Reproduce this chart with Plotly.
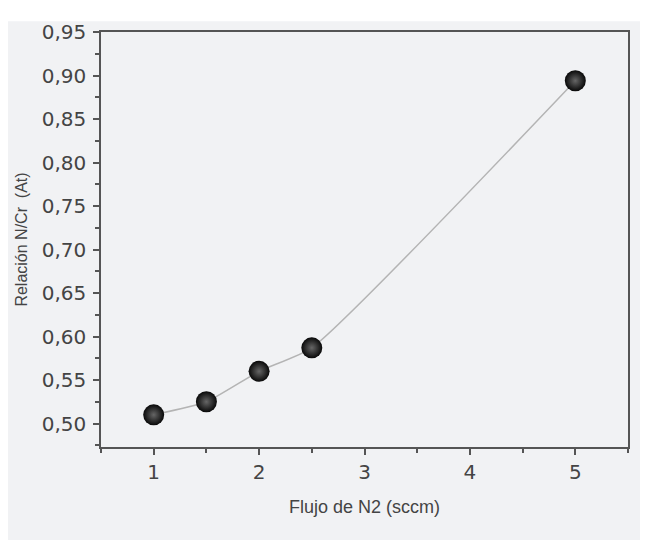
import plotly.graph_objects as go

flujo = [1.0, 1.5, 2.0, 2.5, 5.0]
relacion = [0.510, 0.525, 0.560, 0.587, 0.894]

x_title = "Flujo de N2 (sccm)"
y_title = "Relación N/Cr  (At)"

BG = "#f1f2f4"
AX = "#555555"
TXT = "#444444"
FONT = "Liberation Sans, Arial"
TICKFONT = "DejaVu Sans, Arial"

fig = go.Figure()
fig.add_trace(go.Scatter(
    x=flujo, y=relacion, mode="lines",
    line=dict(shape="spline", smoothing=0.5, color="#b4b4b4", width=1.5),
    hoverinfo="skip", showlegend=False))
fig.add_trace(go.Scatter(
    x=flujo, y=relacion, mode="markers",
    marker=dict(size=21, color="#080808", line=dict(width=0),
                gradient=dict(type="radial", color="#666666")),
    showlegend=False))

# page has an 8px body margin; figure is sized to fit the window
OFF = 8
W, H = 648 - OFF, 540 - OFF
L, R, T, B = 101 - OFF, 628 - OFF, 20 - OFF, 447 - OFF
pw, ph = R - L, B - T

fig.add_shape(type="rect", xref="paper", yref="paper",
              x0=(0 - L) / pw, x1=(W + 10 - L) / pw,
              y0=(B - H - 10) / ph, y1=(B - 1) / ph,
              fillcolor=BG, line=dict(width=0), layer="below")

axis_common = dict(showline=True, linecolor=AX, linewidth=1.5, mirror=True,
                   ticks="outside", ticklen=6, tickwidth=1.5, tickcolor=AX,
                   showgrid=False, zeroline=False,
                   tickfont=dict(family=TICKFONT, size=20, color=TXT))

fig.update_xaxes(range=[0.5, 5.5], tickmode="linear", tick0=1, dtick=1,
                 minor=dict(ticks="outside", ticklen=4, tickwidth=1.5, tickcolor=AX,
                            dtick=0.5, tick0=0.5, showgrid=False),
                 title=dict(text=x_title, standoff=18,
                            font=dict(family=FONT, size=18, color=TXT)),
                 **axis_common)
fig.update_yaxes(range=[0.473, 0.95], tickmode="linear", tick0=0.5, dtick=0.05,
                 tickformat=".2f", ticklabelstandoff=3,
                 minor=dict(ticks="outside", ticklen=4, tickwidth=1.5, tickcolor=AX,
                            dtick=0.025, tick0=0.475, showgrid=False),
                 title=dict(text=y_title, standoff=10,
                            font=dict(family=FONT, size=16, color=TXT)),
                 **axis_common)

fig.update_layout(width=W, height=H, separators=", ",
                  margin=dict(l=L, r=W - R, t=T, b=H - B, pad=0),
                  paper_bgcolor="white", plot_bgcolor="rgba(0,0,0,0)")

fig.write_html("out.html")
